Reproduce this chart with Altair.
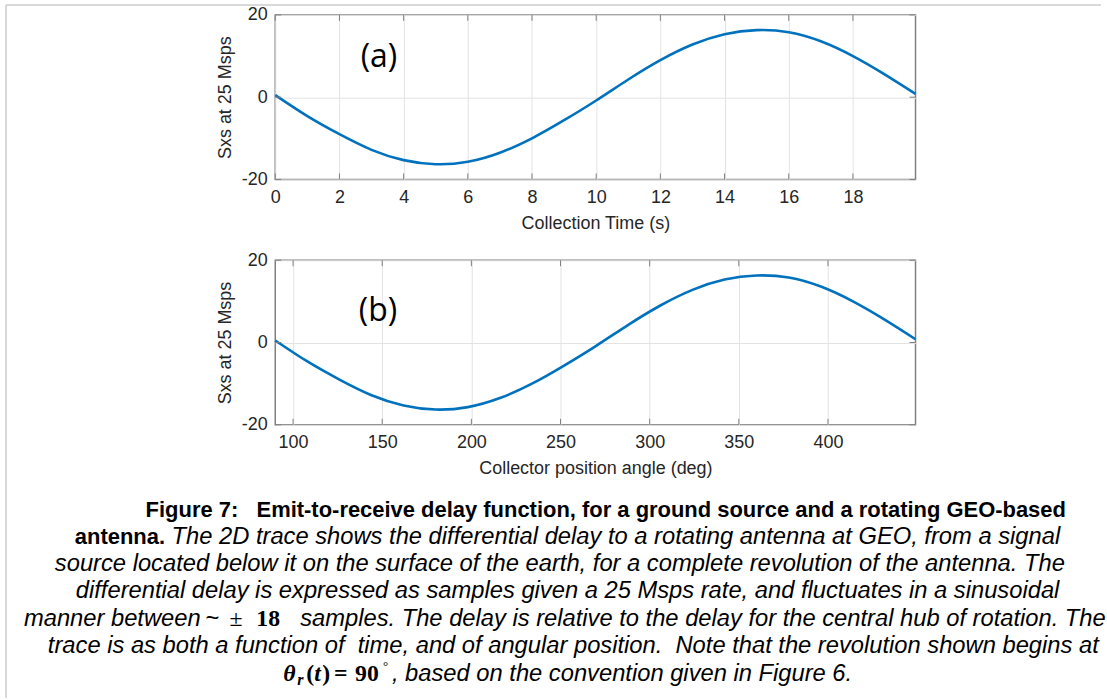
import altair as alt
import pandas as pd

# ---------------- data ----------------
time_s = [0, 1, 2, 3, 4, 5, 6, 7, 8, 9, 10, 11, 12, 13, 14, 15, 16, 17, 18, 19, 19.95]
angle_deg = [90, 108, 126, 144, 162, 180, 198, 216, 234, 252, 270, 288, 306, 324, 342,
             360, 378, 396, 414, 432, 449.1]
sxs = [0.5, -4.6, -9.0, -12.8, -15.3, -16.3, -15.7, -13.5, -10.0, -5.6, -0.8, 4.3, 9.0,
       12.8, 15.3, 16.3, 15.8, 13.6, 10.0, 5.5, 0.8]

ticks_time = [0, 2, 4, 6, 8, 10, 12, 14, 16, 18]
ticks_angle = [100, 150, 200, 250, 300, 350, 400]
ticks_y = [-20, 0, 20]

y_title = "Sxs at 25 Msps"
x_title_a = "Collection Time (s)"
x_title_b = "Collector position angle (deg)"

# ---------------- layout constants ----------------
W, H = 642, 165
SPACING = 81
LEFT, TOP = 275, 13
CAP_TOP = TOP + 2 * H + 2 * SPACING   # page y of caption view origin
LINE = "#0072BD"
BOX = "#808080"
TXT = "#262626"
SANS = "Liberation Sans"
SERIF = "Liberation Serif"


def panel(df, field, domain, ticks, xtitle, tag, tag_xy, extra=None):
    xscale = alt.Scale(domain=domain, nice=False, zero=False)
    yscale = alt.Scale(domain=[-20, 20], nice=False)
    line = alt.Chart(df).mark_line(color=LINE, strokeWidth=2.6, interpolate="natural").encode(
        x=alt.X(f"{field}:Q", scale=xscale,
                axis=alt.Axis(values=ticks, title=xtitle, labelPadding=9, titlePadding=8,
                              labelFlush=False)),
        y=alt.Y("sxs:Q", scale=yscale,
                axis=alt.Axis(values=ticks_y, title=y_title, labelPadding=8, titlePadding=7,
                              labelFlush=False, labelExpr="'' + datum.value")),
    )
    tdf = pd.DataFrame({field: ticks})
    top_t = alt.Chart(tdf).mark_rule(color=BOX, strokeWidth=1).encode(
        x=alt.X(f"{field}:Q", scale=xscale), y=alt.value(0), y2=alt.value(6))
    bot_t = alt.Chart(tdf).mark_rule(color=BOX, strokeWidth=1).encode(
        x=alt.X(f"{field}:Q", scale=xscale), y=alt.value(H - 6), y2=alt.value(H))
    ydf = pd.DataFrame({"sxs": ticks_y})
    left_t = alt.Chart(ydf).mark_rule(color=BOX, strokeWidth=1).encode(
        y=alt.Y("sxs:Q", scale=yscale), x=alt.value(0), x2=alt.value(6))
    right_t = alt.Chart(ydf).mark_rule(color=BOX, strokeWidth=1).encode(
        y=alt.Y("sxs:Q", scale=yscale), x=alt.value(W - 6), x2=alt.value(W))
    label = alt.Chart(pd.DataFrame({"tag": [tag]})).mark_text(
        font="Open Sans", fontSize=32, color="black", align="center", baseline="middle"
    ).encode(text="tag:N", x=alt.value(tag_xy[0]), y=alt.value(tag_xy[1]))
    layers = [line, top_t, bot_t, left_t, right_t, label]
    if extra:
        layers += extra
    return alt.layer(*layers).properties(width=W, height=H)


# decorative page border (light gray) drawn relative to panel (a)
border_top = alt.Chart(pd.DataFrame({"d": [0]})).mark_rule(color="#d9d9d9", strokeWidth=2).encode(
    x=alt.value(5 - LEFT), x2=alt.value(1103 - LEFT), y=alt.value(3 - TOP))
border_left = alt.Chart(pd.DataFrame({"d": [0]})).mark_rule(color="#d9d9d9", strokeWidth=2).encode(
    x=alt.value(5 - LEFT), y=alt.value(3 - TOP), y2=alt.value(698 - TOP))

df_a = pd.DataFrame({"time_s": time_s, "sxs": sxs})
df_b = pd.DataFrame({"angle_deg": angle_deg, "sxs": sxs})

pa = panel(df_a, "time_s", [0, 19.95], ticks_time, x_title_a, "(a)", (104, 42),
           extra=[border_top, border_left])
pb = panel(df_b, "angle_deg", [90, 449.1], ticks_angle, x_title_b, "(b)", (103, 51))

# ---------------- caption ----------------
NB = "\u00a0"
line_y = [509, 536.5, 564, 591, 618.5, 646, 673.5]
FB = 22     # bold caption heading
FI = 23.8   # italic caption body
styles = {
    "bold": dict(font=SANS, fontWeight="bold", fontSize=FB),
    "italic": dict(font=SANS, fontStyle="italic", fontSize=FI),
    "plain": dict(font=SANS, fontSize=FI),
    "math": dict(font=SERIF, fontSize=FI),
    "mbold": dict(font=SERIF, fontWeight="bold", fontSize=FI),
    "mbi": dict(font=SERIF, fontWeight="bold", fontStyle="italic", fontSize=FI),
    "sub": dict(font=SERIF, fontWeight="bold", fontStyle="italic", fontSize=16, dy=6),
    "sup": dict(font=SERIF, fontSize=13, dy=-8),
}
pieces = [
    ("Figure 7:" + NB + NB + " Emit-to-receive delay function, for a ground source and a rotating GEO-based", 145, 0, "bold"),
    ("antenna.", 74, 1, "bold"),
    ("The 2D trace shows the differential delay to a rotating antenna at GEO, from a signal", 171, 1, "italic"),
    ("source located below it on the surface of the earth, for a complete revolution of the antenna. The", 54, 2, "italic"),
    ("differential delay is expressed as samples given a 25 Msps rate, and fluctuates in a sinusoidal", 75, 3, "italic"),
    ("manner between", 23, 4, "italic"),
    ("~", 205, 4, "plain"),
    ("\u00b1", 229, 4, "math"),
    ("18", 256, 4, "mbold"),
    ("samples. The delay is relative to the delay for the central hub of rotation. The", 300, 4, "italic"),
    ("trace is as both a function of " + NB + "time, and of angular position. " + NB + "Note that the revolution shown begins at", 47, 5, "italic"),
    ("\u03b8", 283, 6, "mbi"),
    ("r", 297, 6, "sub"),
    ("(", 306, 6, "mbold"),
    ("t", 314, 6, "mbi"),
    (")", 322, 6, "mbold"),
    ("=", 334, 6, "mbold"),
    ("90", 355, 6, "mbold"),
    ("\u00b0", 383, 6, "sup"),
    (", based on the convention given in Figure 6.", 392, 6, "italic"),
]

cap_layers = []
for text, xp, li, st in pieces:
    cap_layers.append(
        alt.Chart(pd.DataFrame({"s": [text]})).mark_text(
            align="left", baseline="middle", color="black", **styles[st]
        ).encode(text="s:N", x=alt.value(xp - LEFT), y=alt.value(line_y[li] - CAP_TOP))
    )
caption = alt.layer(*cap_layers).properties(
    width=W, height=180, view=alt.ViewConfig(strokeOpacity=0))

chart = alt.vconcat(pa, pb, caption, spacing=SPACING, bounds="flush").resolve_scale(
    x="independent", y="independent"
).properties(
    padding={"left": 4, "top": 2, "right": 0, "bottom": 0},
    background="white",
).configure_view(
    stroke=BOX, strokeWidth=1.5
).configure_axis(
    labelFont=SANS, labelFontSize=18, labelColor=TXT,
    titleFont=SANS, titleFontSize=18, titleFontWeight="normal", titleColor=TXT,
    domain=False, ticks=False, tickSize=0,
    grid=True, gridColor="#e3e3e3", gridWidth=1,
)

chart.save("out.html", embed_options={"renderer": "svg", "actions": False})
